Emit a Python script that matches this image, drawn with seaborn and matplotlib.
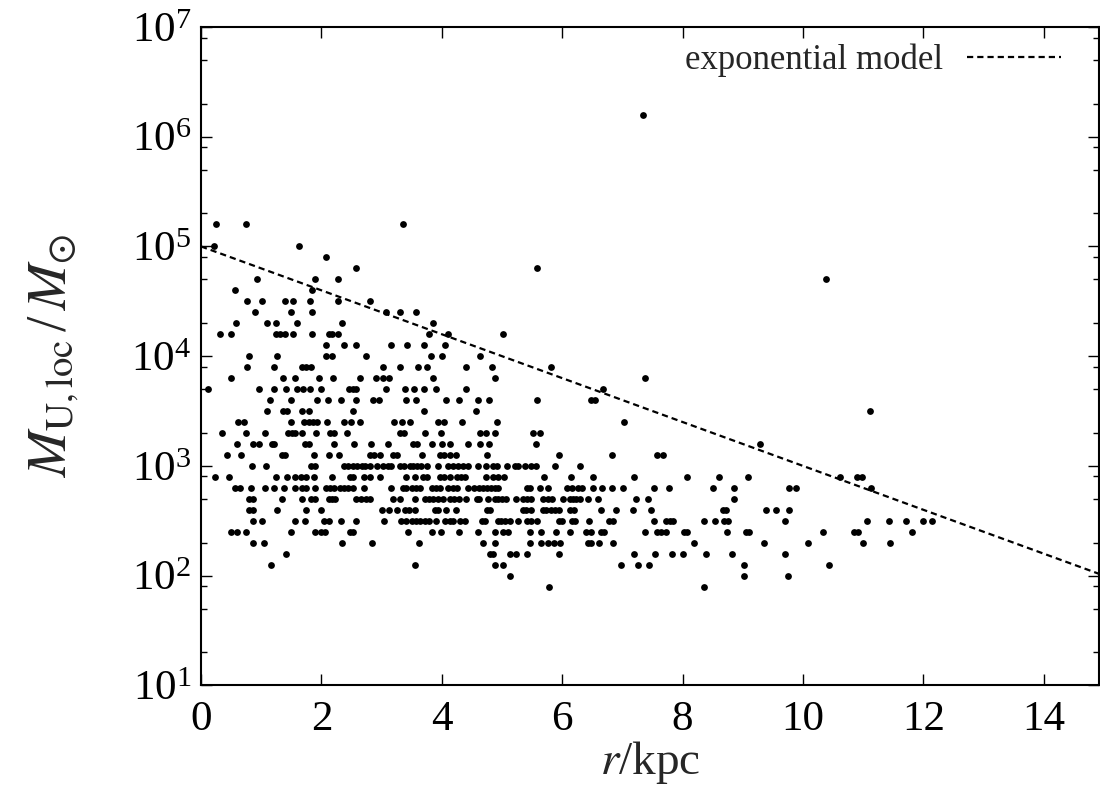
import numpy as np
import pandas as pd
import matplotlib
matplotlib.use("Agg")
import matplotlib.pyplot as plt
import matplotlib.ticker as mticker
import seaborn as sns

# ---- data: galactocentric radius r [kpc] of objects at each mass level log10(M/Msun) ----
r_6_2 = [7.34]
r_5_2 = [0.25, 0.75, 3.36]
r_5_0 = [0.22, 1.62]
r_4_9 = [2.08]
r_4_8 = [2.58, 5.58]
r_4_7 = [0.93, 1.89, 2.27, 10.39]
r_4_6 = [0.56, 1.85]
r_4_5 = [0.76, 1.02, 1.39, 1.53, 1.81, 2.28, 2.80]
r_4_4 = [0.90, 1.49, 1.85, 3.08, 3.31, 3.58]
r_4_3 = [0.58, 1.10, 1.24, 1.60, 2.35, 3.86]
r_4_2 = [0.32, 0.50, 1.24, 1.31, 1.39, 1.53, 1.85, 2.13, 2.18, 2.28, 3.78, 4.11, 5.02]
r_4_1 = [2.07, 2.38, 2.58, 3.15, 3.43, 3.71, 4.05]
r_4_0 = [0.79, 1.27, 2.07, 2.18, 2.74, 3.82, 4.00, 4.63]
r_3_9 = [0.77, 1.21, 1.68, 1.74, 1.83, 3.02, 3.31, 3.61, 3.76, 4.40, 4.83, 5.82]
r_3_8 = [0.50, 1.36, 1.56, 1.96, 2.20, 2.65, 2.90, 3.02, 3.12, 3.86, 4.88, 7.38]
r_3_7 = [0.11, 0.97, 1.22, 1.42, 1.60, 1.70, 1.81, 2.00, 2.46, 2.52, 2.57, 3.07, 3.39,
         3.54, 3.71, 3.91, 4.40, 6.68]
r_3_6 = [1.14, 1.50, 1.92, 2.11, 2.33, 2.57, 2.85, 2.95, 3.41, 3.58, 4.07, 4.28, 4.61,
         4.79, 5.58, 6.48, 6.54]
r_3_5 = [1.10, 1.37, 1.43, 1.67, 1.79, 2.52, 3.70, 4.57, 11.12]
r_3_4 = [0.62, 0.71, 1.50, 1.71, 1.79, 1.86, 1.93, 2.10, 2.37, 2.49, 2.64, 3.21, 3.34,
         3.48, 3.94, 4.04, 4.34, 4.91, 7.02]
r_3_3 = [0.35, 0.75, 1.07, 1.45, 1.51, 1.56, 1.67, 1.91, 2.14, 2.21, 2.42, 3.30, 3.37,
         3.72, 3.99, 4.63, 4.74, 4.89, 5.52, 5.63]
r_3_2 = [0.60, 0.87, 0.97, 1.18, 1.22, 1.72, 1.79, 2.21, 2.55, 2.83, 3.11, 3.52, 3.59,
         3.84, 4.00, 4.13, 4.43, 4.63, 4.78, 5.56, 9.28]
r_3_1 = [0.43, 0.66, 1.34, 1.39, 1.88, 2.13, 2.30, 2.80, 2.88, 2.97, 3.19, 3.25, 3.68,
         3.97, 4.04, 4.13, 4.24, 4.76, 5.95, 6.83, 7.58, 7.68]
r_3_0 = [0.85, 1.08, 1.82, 1.89, 2.38, 2.45, 2.53, 2.60, 2.67, 2.73, 2.81, 2.93, 3.02,
         3.10, 3.15, 3.30, 3.37, 3.47, 3.53, 3.59, 3.66, 3.76, 3.93, 4.10, 4.18, 4.27,
         4.36, 4.44, 4.61, 4.74, 4.85, 4.91, 5.09, 5.21, 5.27, 5.39, 5.49, 5.56, 5.88,
         6.29]
r_2_9 = [0.23, 0.47, 1.25, 1.43, 1.56, 1.66, 1.75, 1.88, 2.18, 2.48, 2.53, 2.70, 2.80,
         2.98, 3.41, 3.55, 3.69, 3.76, 3.97, 4.03, 4.13, 4.25, 4.32, 4.39, 4.74, 4.85,
         4.93, 5.03, 5.70, 6.15, 6.51, 7.19, 8.07, 8.60, 9.09, 10.62, 10.90, 10.99]
r_2_8 = [0.57, 0.64, 0.83, 1.06, 1.21, 1.38, 1.57, 1.67, 1.74, 1.89, 2.07, 2.14, 2.21,
         2.31, 2.38, 2.45, 2.53, 2.70, 3.16, 3.35, 3.41, 3.50, 3.57, 3.64, 3.83, 3.90,
         3.97, 4.11, 4.18, 4.25, 4.44, 4.54, 4.62, 4.69, 4.75, 4.82, 4.89, 4.94, 5.41,
         5.46, 5.63, 5.77, 6.08, 6.16, 6.26, 6.33, 6.51, 6.66, 6.83, 7.01, 7.53, 7.78,
         8.50, 8.86, 9.77, 9.88, 11.13]
r_2_7 = [0.80, 0.87, 1.34, 1.67, 1.82, 1.89, 2.12, 2.18, 2.23, 2.58, 2.66, 2.74, 2.80,
         3.19, 3.30, 3.55, 3.72, 3.79, 3.86, 3.94, 4.02, 4.14, 4.21, 4.28, 4.40, 4.58,
         4.62, 4.77, 4.89, 4.94, 5.00, 5.07, 5.24, 5.35, 5.41, 5.49, 5.68, 5.77, 5.83,
         6.01, 6.13, 6.18, 6.23, 6.30, 6.43, 6.59, 7.22, 7.43, 8.86]
r_2_6 = [0.79, 0.87, 1.27, 1.75, 2.00, 3.00, 3.12, 3.25, 3.39, 3.45, 3.55, 3.89, 3.94,
         4.07, 4.24, 4.75, 4.80, 5.35, 5.40, 5.49, 5.68, 5.74, 5.81, 5.88, 5.95, 6.13,
         6.19, 6.65, 6.89, 7.18, 7.47, 8.67, 8.73, 9.39, 9.56, 9.77]
r_2_5 = [0.86, 1.01, 1.57, 1.72, 2.04, 2.12, 2.32, 2.58, 3.04, 3.33, 3.41, 3.50, 3.57,
         3.64, 3.72, 3.79, 3.91, 4.05, 4.13, 4.18, 4.30, 4.38, 4.67, 4.72, 4.93, 4.99,
         5.05, 5.13, 5.26, 5.42, 5.49, 5.59, 5.94, 6.00, 6.16, 6.22, 6.45, 6.78, 6.84,
         7.52, 7.72, 7.79, 7.84, 8.35, 8.54, 8.69, 8.75, 9.71, 11.06, 11.43, 11.71,
         12.00, 12.15]
r_2_4 = [0.50, 0.60, 0.75, 1.50, 1.90, 1.99, 2.06, 2.48, 2.53, 3.44, 3.83, 3.99, 4.29,
         4.61, 4.88, 5.02, 5.10, 5.46, 5.65, 5.89, 6.13, 6.40, 6.48, 6.64, 6.70, 7.37,
         7.58, 7.65, 7.73, 8.02, 8.08, 8.74, 9.05, 9.10, 10.34, 10.85, 10.92, 11.81]
r_2_3 = [0.86, 1.04, 2.34, 2.84, 3.62, 4.69, 4.88, 5.46, 5.65, 5.77, 5.87, 5.96, 6.43,
         6.48, 6.62, 6.84, 8.19, 9.35, 10.08, 11.00, 11.44]
r_2_2 = [1.42, 4.80, 4.85, 5.13, 5.24, 5.42, 5.95, 7.19, 7.55, 7.82, 8.01, 8.39, 8.83, 9.71]
r_2_1 = [1.16, 3.55, 4.88, 5.02, 6.98, 7.26, 7.44, 9.03, 10.43]
r_2_0 = [5.14, 9.03, 9.75]
r_1_9 = [5.78, 8.35]

logM_levels = [6.2, 5.2, 5.0, 4.9, 4.8, 4.7, 4.6, 4.5, 4.4, 4.3, 4.2, 4.1, 4.0, 3.9, 3.8,
               3.7, 3.6, 3.5, 3.4, 3.3, 3.2, 3.1, 3.0, 2.9, 2.8, 2.7, 2.6, 2.5, 2.4, 2.3,
               2.2, 2.1, 2.0, 1.9]
r_by_level = [r_6_2, r_5_2, r_5_0, r_4_9, r_4_8, r_4_7, r_4_6, r_4_5, r_4_4, r_4_3,
              r_4_2, r_4_1, r_4_0, r_3_9, r_3_8, r_3_7, r_3_6, r_3_5, r_3_4, r_3_3,
              r_3_2, r_3_1, r_3_0, r_2_9, r_2_8, r_2_7, r_2_6, r_2_5, r_2_4, r_2_3,
              r_2_2, r_2_1, r_2_0, r_1_9]

# exponential model: straight line on the log axis between these two end points
model_r = [0.0, 15.0]
model_M = [1.0e5, 1.0e2]
model_label = "exponential model"

xticks = [0, 2, 4, 6, 8, 10, 12, 14]
ytick_exponents = [1, 2, 3, 4, 5, 6, 7]

rows = []
for lev, rs in zip(logM_levels, r_by_level):
    for rv in rs:
        rows.append((rv, 10.0 ** lev))
df = pd.DataFrame(rows, columns=["r", "M"])
df_model = pd.DataFrame({"r": model_r, "M": model_M})

# ---- style ----
sns.set_style("ticks")
plt.rcParams["font.family"] = ["Liberation Serif", "DejaVu Serif"]
plt.rcParams["mathtext.fontset"] = "stix"
plt.rcParams["mathtext.default"] = "regular"

fig = plt.figure(figsize=(11.0, 7.96), dpi=100)
ax = fig.add_axes([201 / 1100, 1 - 685.3 / 796, (1099 - 201) / 1100, (685.3 - 27) / 796])

sns.lineplot(data=df_model, x="r", y="M", ax=ax, color="black", linewidth=1.6,
             label=model_label, legend=False)
ax.lines[-1].set_linestyle((0, (2.8, 1.8)))
sns.scatterplot(data=df, x="r", y="M", ax=ax, color="black", s=24, linewidth=0,
                legend=False, zorder=3)

ax.set_yscale("log")
ax.set_xlim(0, 14.92)
ax.set_ylim(1e1, 1e7)
ax.set_xticks(xticks)
ax.set_xticklabels([str(t) for t in xticks])
ax.set_yticks([10.0 ** e for e in ytick_exponents])
ax.set_yticklabels([r"$10^{%d}$" % e for e in ytick_exponents])
ax.yaxis.set_minor_locator(mticker.FixedLocator(
    [m * 10.0 ** e for e in ytick_exponents[:-1] for m in (2, 5, 8)]))
ax.yaxis.set_minor_formatter(mticker.NullFormatter())
ax.xaxis.set_minor_locator(mticker.NullLocator())

ax.tick_params(which="both", direction="in", top=True, right=True, colors="black")
ax.tick_params(which="major", length=8, width=1.0, labelsize=31)
ax.tick_params(axis="x", which="major", pad=11)
ax.tick_params(axis="y", which="major", pad=7)
ax.tick_params(which="minor", length=4.5, width=1.0)
for sp in ax.spines.values():
    sp.set_linewidth(1.5)
    sp.set_color("black")

ax.set_xlabel(r"$\mathit{r}$/kpc", fontsize=34, labelpad=0)
ax.set_ylabel(r"$\mathit{M}_{\rm U,loc}\,/\,\mathit{M}_{\odot}$", fontsize=40, labelpad=36)

handles, labels = ax.get_legend_handles_labels()
leg = ax.legend(handles, labels, loc="upper right", frameon=False, markerfirst=False,
                fontsize=25, handlelength=2.7, handletextpad=0.7,
                bbox_to_anchor=(0.985, 1.012), borderaxespad=0.3)

fig.savefig("out.png", dpi=100, facecolor="white")
